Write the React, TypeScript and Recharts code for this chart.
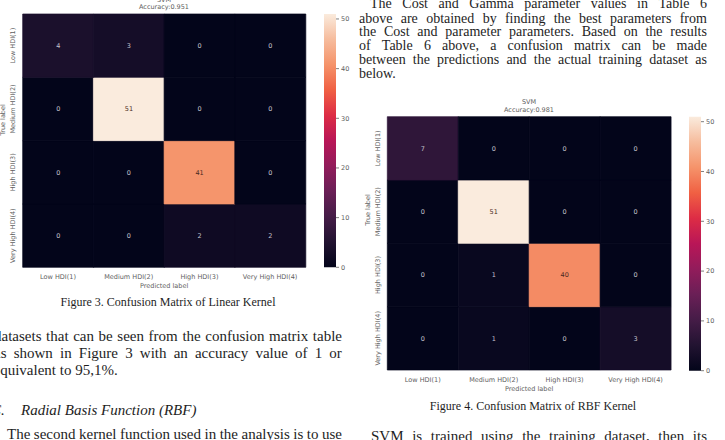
import React from 'react';
import { BarChart, Bar, XAxis, YAxis, Cell, LabelList } from 'recharts';

const classLabels = ['Low HDI(1)', 'Medium HDI(2)', 'High HDI(3)', 'Very High HDI(4)'];

// rows = true label, columns = predicted label
const linearMatrix = [
  [4, 3, 0, 0],
  [0, 51, 0, 0],
  [0, 0, 41, 0],
  [0, 0, 2, 2],
];
const rbfMatrix = [
  [7, 0, 0, 0],
  [0, 51, 0, 0],
  [0, 1, 40, 0],
  [0, 1, 0, 3],
];
const colorMax = 51;
const colorbarTicks = [0, 10, 20, 30, 40, 50];

// seaborn "rocket" colormap, sampled
const ROCKET: [number, string][] = [
  [0, '#03051a'],
  [0.1, '#221331'],
  [0.2, '#451c47'],
  [0.3, '#6a1f56'],
  [0.4, '#921c5b'],
  [0.5, '#b91657'],
  [0.6, '#dd2c45'],
  [0.7, '#f06043'],
  [0.8, '#f5936a'],
  [0.9, '#f6bc9d'],
  [1, '#faebdd'],
];

const hexRgb = (h: string) => [1, 3, 5].map((i) => parseInt(h.slice(i, i + 2), 16));

function rocket(t: number) {
  const v = Math.max(0, Math.min(1, t));
  for (let i = 1; i < ROCKET.length; i++) {
    const [o1, c1] = ROCKET[i];
    if (v <= o1) {
      const [o0, c0] = ROCKET[i - 1];
      const f = (v - o0) / (o1 - o0);
      const a = hexRgb(c0);
      const b = hexRgb(c1);
      return `rgb(${a.map((x, k) => Math.round(x + (b[k] - x) * f)).join(',')})`;
    }
  }
  return ROCKET[ROCKET.length - 1][1];
}

const accuracy = (m: number[][]) => {
  const total = m.flat().reduce((s, v) => s + v, 0);
  const hit = m.reduce((s, row, i) => s + row[i], 0);
  return (hit / total).toFixed(3);
};

const AXIS_FONT = '"DejaVu Sans", Verdana, sans-serif';
const AXIS_COLOR = '#5e5e5e';
const SERIF = '"Liberation Serif", "Times New Roman", serif';

const RotatedTick = (props: any) => {
  const { x, y, payload } = props;
  const n = classLabels.length;
  const label = classLabels[n - 1 - Math.floor(payload.value)];
  return (
    <text
      x={x}
      y={y}
      transform={`rotate(-90 ${x} ${y})`}
      textAnchor="middle"
      dy="0.35em"
      fontSize={6.5}
      fill={AXIS_COLOR}
      fontFamily={AXIS_FONT}
    >
      {label}
    </text>
  );
};

const CellLabel = (props: any) => {
  const { x, y, width, height, value } = props;
  const light = value / colorMax > 0.6;
  return (
    <text
      x={Number(x) + Number(width) / 2}
      y={Number(y) + Number(height) / 2}
      dy="0.35em"
      textAnchor="middle"
      fontSize={6.5}
      fontFamily={AXIS_FONT}
      fill={light ? '#4a2a22' : '#c4c2cc'}
    >
      {value}
    </text>
  );
};

type HeatmapProps = {
  matrix: number[][];
  width: number;
  height: number;
  margin: { top: number; right: number; bottom: number; left: number };
  yAxisWidth: number;
  xAxisHeight: number;
  predOffset: number;
};

const Heatmap = ({ matrix, width, height, margin, yAxisWidth, xAxisHeight, predOffset }: HeatmapProps) => {
  const n = classLabels.length;
  const stack = classLabels.map((_, k) => k); // 0 = bottom row
  const data = classLabels.map((label, j) => {
    const d: Record<string, string | number> = { label };
    stack.forEach((k) => {
      d[`r${k}`] = 1;
      d[`v${k}`] = matrix[n - 1 - k][j];
    });
    return d;
  });

  return (
    <BarChart width={width} height={height} data={data} margin={margin} barCategoryGap={0} barGap={0}>
      <XAxis
        dataKey="label"
        interval={0}
        axisLine={false}
        tickLine={false}
        tickSize={0}
        tickMargin={7}
        height={xAxisHeight}
        tick={{ fontSize: 6.5, fill: AXIS_COLOR, fontFamily: AXIS_FONT }}
        label={{
          value: 'Predicted label',
          position: 'insideBottom',
          offset: predOffset,
          fontSize: 6.5,
          fill: AXIS_COLOR,
          fontFamily: AXIS_FONT,
        }}
      />
      <YAxis
        type="number"
        domain={[0, n]}
        ticks={stack.map((k) => k + 0.5)}
        interval={0}
        width={yAxisWidth}
        axisLine={false}
        tickLine={false}
        tickSize={0}
        tickMargin={10}
        tick={<RotatedTick />}
      />
      {stack.map((k) => (
        <Bar key={k} dataKey={`r${k}`} stackId="m" isAnimationActive={false}>
          {data.map((d, j) => {
            const c = rocket((d[`v${k}`] as number) / colorMax);
            return <Cell key={j} fill={c} stroke={c} strokeWidth={0.7} />;
          })}
          <LabelList dataKey={`v${k}`} content={CellLabel} />
        </Bar>
      ))}
    </BarChart>
  );
};

const Colorbar = ({ id, height, margin }: { id: string; height: number; margin: { top: number; right: number; bottom: number; left: number } }) => (
  <BarChart width={40} height={height} data={[{ name: 'scale', value: colorMax }]} margin={margin} barCategoryGap={0}>
    <defs>
      <linearGradient id={id} x1="0" y1="1" x2="0" y2="0">
        {ROCKET.map(([o, c]) => (
          <stop key={o} offset={o} stopColor={c} />
        ))}
      </linearGradient>
    </defs>
    <XAxis dataKey="name" hide />
    <YAxis
      orientation="right"
      type="number"
      domain={[0, colorMax]}
      ticks={colorbarTicks}
      interval={0}
      width={22}
      axisLine={false}
      tickSize={3}
      tickMargin={2}
      tickLine={{ stroke: AXIS_COLOR, strokeWidth: 0.8 }}
      tick={{ fontSize: 6.5, fill: AXIS_COLOR, fontFamily: AXIS_FONT }}
    />
    <Bar dataKey="value" fill={`url(#${id})`} isAnimationActive={false} />
  </BarChart>
);

const Small = ({ text, cx, cy, rotate = false }: { text: string; cx: number; cy: number; rotate?: boolean }) => (
  <div
    style={{
      position: 'absolute',
      left: cx - 60,
      width: 120,
      top: cy - 4,
      textAlign: 'center',
      fontSize: 6.5,
      lineHeight: '8px',
      fontFamily: AXIS_FONT,
      color: AXIS_COLOR,
      whiteSpace: 'nowrap',
      transform: rotate ? 'rotate(-90deg)' : undefined,
    }}
  >
    {text}
  </div>
);

const Line = ({
  text,
  x,
  y,
  w = 0,
  size = 15,
  justify = false,
  italic = false,
  center = false,
}: {
  text: string;
  x: number;
  y: number;
  w?: number;
  size?: number;
  justify?: boolean;
  italic?: boolean;
  center?: boolean;
}) => {
  const style: React.CSSProperties = {
    position: 'absolute',
    left: center ? x - 200 : x,
    top: y - size * 0.52,
    fontSize: size,
    lineHeight: `${size}px`,
    fontFamily: SERIF,
    color: '#1e1e1e',
    whiteSpace: 'nowrap',
    fontStyle: italic ? 'italic' : 'normal',
  };
  if (center) return <div style={{ ...style, width: 400, textAlign: 'center' }}>{text}</div>;
  if (!justify) return <div style={style}>{text}</div>;
  return (
    <div style={{ ...style, width: w, display: 'flex', justifyContent: 'space-between' }}>
      {text.split(' ').map((t, i) => (
        <span key={i}>{t}</span>
      ))}
    </div>
  );
};

export default function App() {
  return (
    <div
      style={{
        position: 'absolute',
        left: 0,
        top: 0,
        width: 725,
        height: 440,
        overflow: 'hidden',
        background: '#fff',
      }}
    >
      {/* left figure */}
      <Small text="SVM" cx={164} cy={-0.5} />
      <Small text={`Accuracy:${accuracy(linearMatrix)}`} cx={164} cy={7} />
      <div style={{ position: 'absolute', left: 0, top: 0 }}>
        <Heatmap
          matrix={linearMatrix}
          width={320}
          height={295}
          margin={{ top: 14, right: 14.5, bottom: 0, left: 0 }}
          yAxisWidth={22.7}
          xAxisHeight={27.7}
          predOffset={6.7}
        />
      </div>
      <Small text="True label" cx={2.5} cy={120} rotate />
      <div style={{ position: 'absolute', left: 318, top: 0 }}>
        <Colorbar id="cbar-linear" height={280} margin={{ top: 14, right: 0, bottom: 12.7, left: 6 }} />
      </div>
      <Line text="Figure 3. Confusion Matrix of Linear Kernel" x={168} y={302.7} size={12} center />

      <Line text="datasets that can be seen from the confusion matrix table" x={-6} y={336.7} w={348} justify />
      <Line text="as shown in Figure 3 with an accuracy value of 1 or" x={-6} y={353.3} w={348} justify />
      <Line text="equivalent to 95,1%." x={-6.5} y={371} />
      <Line text="C." x={-9} y={411} italic />
      <Line text="Radial Basis Function (RBF)" x={21} y={411} italic />
      <Line text="The second kernel function used in the analysis is to use" x={7} y={435} w={335} justify />

      {/* right column */}
      <Line text="The Cost and Gamma parameter values in Table 6" x={370} y={4.5} w={337} size={14} justify />
      <Line text="above are obtained by finding the best parameters from" x={359} y={19} w={348} size={14} justify />
      <Line text="the Cost and parameter parameters. Based on the results" x={359} y={32.5} w={348} size={14} justify />
      <Line text="of Table 6 above, a confusion matrix can be made" x={359} y={46} w={348} size={14} justify />
      <Line text="between the predictions and the actual training dataset as" x={359} y={60} w={348} size={14} justify />
      <Line text="below." x={359} y={74} size={14} />

      <Small text="SVM" cx={529} cy={102} />
      <Small text={`Accuracy:${accuracy(rbfMatrix)}`} cx={529} cy={109.5} />
      <div style={{ position: 'absolute', left: 360, top: 95 }}>
        <Heatmap
          matrix={rbfMatrix}
          width={345}
          height={300}
          margin={{ top: 21.7, right: 34, bottom: 0, left: 0 }}
          yAxisWidth={27.3}
          xAxisHeight={25}
          predOffset={3.7}
        />
      </div>
      <Small text="True label" cx={367.5} cy={210} rotate />
      <div style={{ position: 'absolute', left: 683, top: 100 }}>
        <Colorbar id="cbar-rbf" height={290} margin={{ top: 16.7, right: 0, bottom: 19.3, left: 6 }} />
      </div>
      <Line text="Figure 4. Confusion Matrix of RBF Kernel" x={533} y={406} size={12} center />
      <Line text="SVM is trained using the training dataset, then its" x={371} y={437} w={336} size={15} justify />
    </div>
  );
}
